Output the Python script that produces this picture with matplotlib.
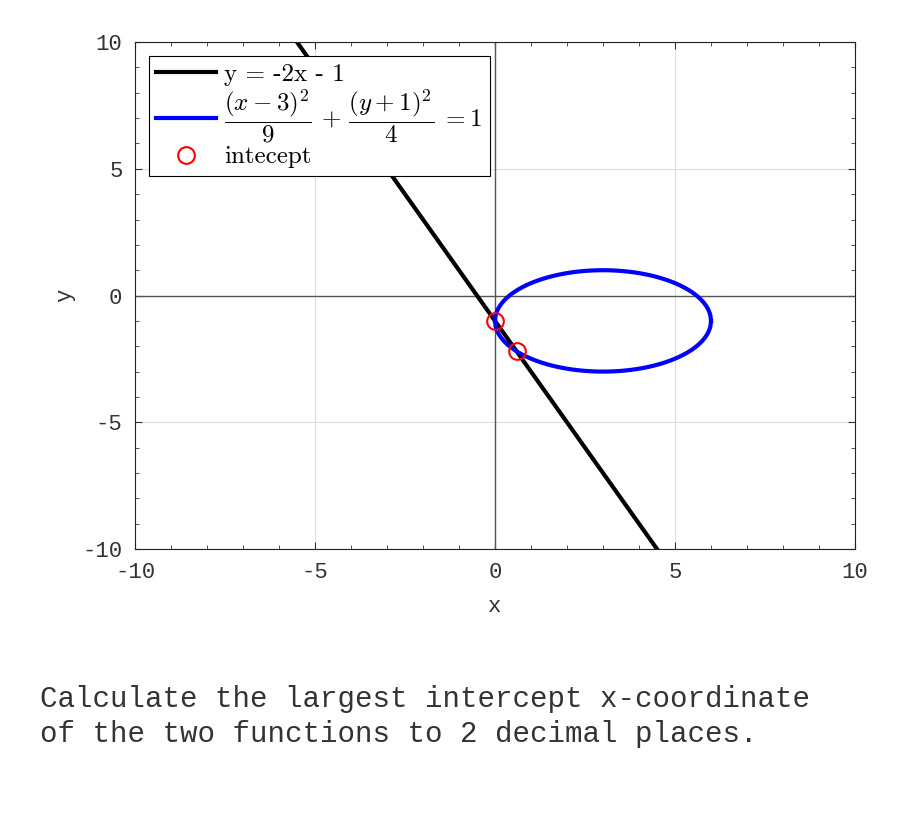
import numpy as np
import matplotlib.pyplot as plt
from matplotlib.ticker import MultipleLocator

plt.rcParams['mathtext.fontset'] = 'cm'
plt.rcParams['font.family'] = 'Liberation Mono'
plt.rcParams['axes.unicode_minus'] = False

# line y = m*x + c
slope = -2
offset = -1
line_x = [-5.5, 4.5]

# ellipse (x-h)^2/a^2 + (y-k)^2/b^2 = 1
h, k = 3, -1
a, b = 3, 2

# intercepts
int_x = [0.0, 0.6]
int_y = [-1.0, -2.2]

fig = plt.figure(figsize=(9, 8.25), dpi=100)
ax = fig.add_axes([0.15, 0.3345, 0.8, 0.6145])

lx = np.array(line_x)
l1, = ax.plot(lx, slope * lx + offset, color='black', lw=3, label='y = -2x - 1')

ex = np.linspace(h - a, h + a, 400)
ey = b * np.sqrt(np.clip(1 - (ex - h) ** 2 / a ** 2, 0, None))
l2, = ax.plot(ex, k + ey, color='blue', lw=3,
              label=r'$\dfrac{(x-3)^2}{9}\,+\,\dfrac{(y+1)^2}{4}\;=1$')
ax.plot(ex, k - ey, color='blue', lw=3)

l3, = ax.plot(int_x, int_y, 'o', ms=12, mfc='none', mec='red', mew=1.5,
              label='intecept', zorder=5)

ax.axhline(0, color='#555555', lw=1, zorder=1)
ax.axvline(0, color='#555555', lw=1, zorder=1)

ax.set_xlim(-10, 10)
ax.set_ylim(-10, 10)
ax.xaxis.set_major_locator(MultipleLocator(5))
ax.yaxis.set_major_locator(MultipleLocator(5))
ax.xaxis.set_minor_locator(MultipleLocator(1))
ax.yaxis.set_minor_locator(MultipleLocator(1))
ax.tick_params(which='both', direction='in', top=True, right=True,
               labelsize=16, colors='#333333', pad=9)
ax.tick_params(which='major', length=5)
ax.tick_params(which='minor', length=3)
ax.grid(True, which='major', color='#dddddd', lw=0.8)
ax.set_axisbelow(True)
for s in ax.spines.values():
    s.set_color('#222222')

ax.set_xlabel('x', fontsize=16, color='#333333', labelpad=10)
ax.set_ylabel('y', fontsize=16, color='#333333', labelpad=5)

leg = ax.legend(handles=[l1, l2, l3], loc='upper left', fancybox=False,
                edgecolor='black', framealpha=1, prop={'family': 'cmr10', 'size': 18},
                handlelength=2.4, handletextpad=0.3, borderaxespad=0.55,
                labelspacing=0.05, borderpad=0.3)
leg.get_frame().set_linewidth(0.8)

fig.text(0.044, 0.093,
         'Calculate the largest intercept x-coordinate\nof the two functions to 2 decimal places.',
         fontsize=21, color='#333333', linespacing=1.32, va='bottom')

fig.savefig('out.png', dpi=100)
